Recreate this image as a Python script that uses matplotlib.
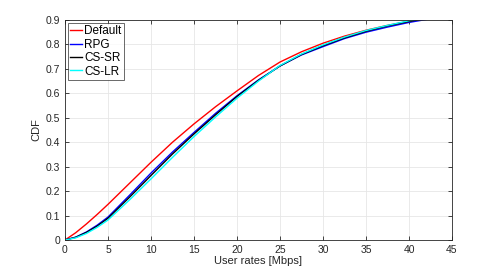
import matplotlib
matplotlib.use('Agg')
import matplotlib.pyplot as plt

# user rate grid [Mbps] and CDF values
rates = [0, 1.25, 2.5, 3.75, 5, 7.5, 10, 12.5, 15, 17.5, 20, 22.5, 25, 27.5, 30, 32.5, 35, 37.5, 40, 42.5, 45]
cdf_default = [0, 0.030, 0.066, 0.105, 0.146, 0.232, 0.318, 0.400, 0.475, 0.545, 0.610, 0.673,
               0.728, 0.770, 0.805, 0.834, 0.858, 0.878, 0.895, 0.910, 0.925]
cdf_rpg = [0, 0.012, 0.033, 0.061, 0.094, 0.183, 0.274, 0.360, 0.440, 0.518, 0.590, 0.655,
           0.712, 0.757, 0.791, 0.824, 0.850, 0.871, 0.890, 0.905, 0.920]
cdf_cs_sr = [0, 0.011, 0.031, 0.057, 0.089, 0.175, 0.264, 0.352, 0.434, 0.512, 0.587, 0.653,
             0.712, 0.759, 0.795, 0.827, 0.854, 0.876, 0.894, 0.910, 0.925]
cdf_cs_lr = [0, 0.009, 0.027, 0.052, 0.082, 0.164, 0.250, 0.338, 0.423, 0.503, 0.580, 0.650,
             0.714, 0.761, 0.798, 0.830, 0.857, 0.878, 0.897, 0.912, 0.927]

labels = ['Default', 'RPG', 'CS-SR', 'CS-LR']
colors = ['#ff0000', '#0000ff', '#000000', '#00ffff']

plt.rcParams['font.family'] = ['Liberation Sans', 'DejaVu Sans']

fig = plt.figure(figsize=(5, 2.7), dpi=100)
ax = fig.add_axes([0.13, 0.111, 0.774, 0.815])

for ys, lab, c in zip([cdf_default, cdf_rpg, cdf_cs_sr, cdf_cs_lr], labels, colors):
    ax.plot(rates, ys, color=c, lw=1.0, label=lab)

ax.set_xlim(0, 45)
ax.set_ylim(0, 0.9)
ax.set_xticks(range(0, 46, 5))
ax.set_yticks([i / 10 for i in range(10)])
ax.set_yticklabels(['0'] + ['%.1f' % (i / 10) for i in range(1, 10)])
ax.grid(True, color='#e6e6e6', lw=0.6)
ax.set_axisbelow(True)
ax.tick_params(direction='in', top=True, right=True, length=3, width=0.6,
               colors='#262626', labelsize=7.5, labelcolor='#262626')
for s in ax.spines.values():
    s.set_color('#262626')
    s.set_linewidth(0.6)

ax.set_xlabel('User rates [Mbps]', fontsize=8, color='#262626', labelpad=1)
ax.set_ylabel('CDF', fontsize=8, color='#262626', labelpad=3)

leg = ax.legend(loc='upper left', fontsize=8.5, handlelength=1.0, handletextpad=0.2,
                borderpad=0.2, labelspacing=0.12, borderaxespad=0.25, fancybox=False)
leg.get_frame().set_edgecolor('#262626')
leg.get_frame().set_linewidth(0.6)

fig.savefig('out.png', dpi=100)
